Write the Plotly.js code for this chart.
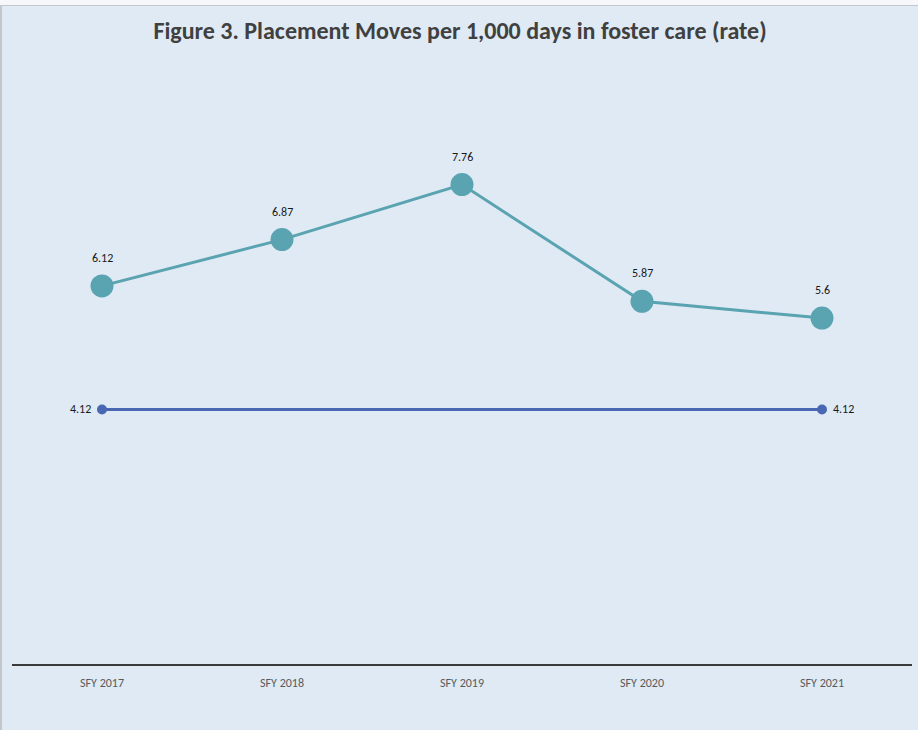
<!DOCTYPE html>
<html>
<head>
<meta charset="utf-8">
<script src="https://cdn.plot.ly/plotly-3.0.1.min.js"></script>
<style>
  html, body { margin: 0; padding: 0; background: #f5f7fa; }
  #wrap { position: absolute; top: 5px; left: 0; width: 916px; height: 724px;
          border-top: 1px solid #c4c6c9; border-left: 2px solid #c4c6c9; background: #dfeaf4; }
  #chart { width: 916px; height: 724px; }
</style>
</head>
<body>
<div id="wrap"><div id="chart"></div></div>
<script>
const categories = ["SFY 2017", "SFY 2018", "SFY 2019", "SFY 2020", "SFY 2021"];
const rateValues = [6.12, 6.87, 7.76, 5.87, 5.6];
const baselineValues = [4.12, 4.12, 4.12, 4.12, 4.12];
const rateLabels = ["6.12", "6.87", "7.76", "5.87", "5.6"];
const baselineLabels = ["4.12", "4.12"];

const font = "Calibri, 'Liberation Sans Narrow', 'DejaVu Sans Condensed', 'Open Sans', sans-serif";

const baselineMarkerSizes = baselineValues.map((v, i) => (i === 0 || i === baselineValues.length - 1) ? 10 : 0);

const traces = [
  {
    x: categories, y: baselineValues, type: "scatter", mode: "lines+markers",
    line: { color: "#4a67b4", width: 3 },
    marker: { color: "#4a67b4", size: baselineMarkerSizes, opacity: 1, line: { width: 0 } },
    hoverinfo: "skip"
  },
  {
    x: categories, y: rateValues, type: "scatter", mode: "lines+markers",
    line: { color: "#5aa3b0", width: 3 },
    marker: { color: "#5aa3b0", size: 23, opacity: 1, line: { width: 0 } },
    hoverinfo: "skip"
  }
];

const annotations = [];
categories.forEach((c, i) => {
  annotations.push({
    x: c, y: rateValues[i], text: rateLabels[i], showarrow: false,
    yshift: 28, font: { family: font, size: 12, color: "#1a1a1a" }
  });
});
annotations.push({
  x: categories[0], y: baselineValues[0], text: baselineLabels[0], showarrow: false,
  xanchor: "right", xshift: -9, font: { family: font, size: 12, color: "#1a1a1a" }
});
annotations.push({
  x: categories[categories.length - 1], y: baselineValues[baselineValues.length - 1],
  text: baselineLabels[1], showarrow: false,
  xanchor: "left", xshift: 9, font: { family: font, size: 12, color: "#1a1a1a" }
});

const layout = {
  width: 916, height: 724,
  paper_bgcolor: "#dfeaf4", plot_bgcolor: "#dfeaf4",
  margin: { l: 10, r: 6, t: 102, b: 66 },
  showlegend: false,
  title: {
    text: "<b>Figure 3. Placement Moves per 1,000 days in foster care (rate)</b>",
    font: { family: font, size: 24, color: "#404040" },
    x: 0.5, xanchor: "center", y: 1, yref: "container", yanchor: "top",
    pad: { t: 16 }
  },
  xaxis: {
    type: "category", range: [-0.5, 4.5],
    showgrid: false, zeroline: false,
    showline: true, linecolor: "#3a3a3a", linewidth: 2,
    ticks: "", ticklabelstandoff: 7,
    tickfont: { family: font, size: 12, color: "#595959" },
    fixedrange: true
  },
  yaxis: {
    range: [0, 9], showgrid: false, zeroline: false, showline: false,
    showticklabels: false, ticks: "", fixedrange: true
  },
  annotations: annotations
};

Plotly.newPlot("chart", traces, layout, { displayModeBar: false, staticPlot: true });
</script>
</body>
</html>
